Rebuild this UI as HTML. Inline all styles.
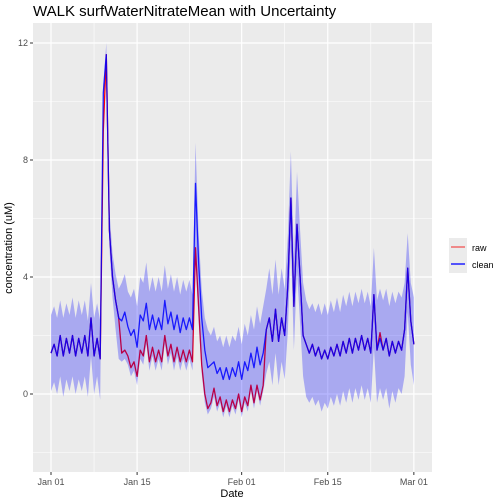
<!DOCTYPE html>
<html><head><meta charset="utf-8"><style>
body{margin:0;background:#fff}
svg{display:block;font-family:"Liberation Sans",sans-serif}
</style></head><body>
<svg id="chart" width="504" height="504" viewBox="0 0 504 504">
<text x="33" y="16" font-size="15" fill="#000">WALK surfWaterNitrateMean with Uncertainty</text>
<rect x="33" y="23" width="399" height="449" fill="#EBEBEB"/>
<g id="grid"></g>
<g id="series"></g>
<g id="axes"></g>
<text transform="translate(12,248) rotate(-90)" text-anchor="middle" font-size="11" fill="#000">concentration (uM)</text>
<text x="232" y="497" text-anchor="middle" font-size="11" fill="#000">Date</text>
<g>
<rect x="449" y="238" width="18" height="35" fill="#EBEBEB"/>
<line x1="451" x2="465" y1="247" y2="247" stroke="#F06868" stroke-width="1.5"/>
<line x1="451" x2="465" y1="264" y2="264" stroke="#2020FF" stroke-width="1.5"/>
<text x="472" y="251" font-size="9" fill="#000">raw</text>
<text x="472" y="268" font-size="9" fill="#000">clean</text>
</g>
</svg>
<script>
const yTicks = [0, 4, 8, 12];
const yMinor = [-2, 2, 6, 10];
const xTickLabels = ["Jan 01", "Jan 15", "Feb 01", "Feb 15", "Mar 01"];
const xTickDays = [0, 14, 31, 45, 59];
const xMinorDays = [7, 22.5, 38, 52];
const clean = [1.4,1.7,1.3,2.0,1.3,1.9,1.4,2.0,1.3,1.9,1.4,2.0,1.3,2.6,1.3,1.9,1.2,10.3,11.6,5.6,4.0,3.2,2.6,2.5,2.8,2.3,2.0,2.2,1.6,2.7,2.5,3.1,2.2,2.7,2.2,2.6,2.2,3.2,2.4,2.8,2.2,2.7,2.1,2.6,2.2,2.6,2.2,7.2,4.5,2.6,1.5,0.9,1.0,1.1,0.7,0.9,0.5,0.9,0.5,0.9,0.6,1.1,0.5,1.1,0.8,1.4,0.9,1.6,1.0,1.4,2.2,2.6,1.8,2.9,1.8,2.6,2.0,3.7,6.7,3.0,5.8,4.0,2.0,1.7,1.4,1.7,1.3,1.6,1.2,1.5,1.2,1.6,1.3,1.7,1.3,1.8,1.4,1.9,1.4,1.9,1.5,2.0,1.5,1.9,1.4,3.4,1.5,1.9,1.5,1.9,1.3,1.8,1.4,1.8,1.5,2.2,4.3,2.5,1.7];
const raw = [1.4,1.7,1.3,2.0,1.3,1.9,1.4,2.0,1.3,1.9,1.4,2.0,1.3,2.6,1.3,1.9,1.2,9.0,11.6,5.6,4.0,3.2,2.6,1.4,1.5,1.3,0.9,1.1,0.6,1.5,1.3,2.0,1.1,1.6,1.1,1.5,1.1,2.0,1.3,1.7,1.1,1.6,1.1,1.5,1.1,1.5,1.1,5.0,3.0,1.0,0.0,-0.5,-0.3,0.2,-0.4,-0.1,-0.6,-0.2,-0.6,-0.2,-0.5,0.0,-0.6,-0.1,-0.4,0.3,-0.3,0.3,-0.2,0.3,2.2,2.6,1.8,2.9,1.8,2.6,2.0,3.7,6.7,3.0,5.8,4.0,2.0,1.7,1.4,1.7,1.3,1.6,1.2,1.5,1.2,1.6,1.3,1.7,1.3,1.8,1.4,1.9,1.4,1.9,1.5,2.0,1.5,1.9,1.4,3.4,1.5,2.1,1.5,1.9,1.3,1.8,1.4,1.8,1.5,2.2,4.3,2.5,1.7];
const hi = [2.7,3.0,2.6,3.2,2.6,3.1,2.7,3.3,2.6,3.2,2.7,3.2,2.5,3.8,2.6,3.1,2.5,10.6,12.0,6.3,4.8,4.1,3.6,3.8,4.1,3.5,3.3,3.6,3.0,4.0,3.8,4.5,3.5,4.0,3.5,4.0,3.5,4.4,3.6,4.1,3.5,4.0,3.4,3.9,3.5,3.9,3.4,8.6,5.5,3.6,2.6,2.2,2.0,2.3,1.8,2.0,1.6,2.0,1.6,2.0,1.8,2.3,1.7,2.4,2.0,2.7,2.2,3.0,2.4,3.0,3.6,4.3,3.4,4.6,3.4,4.3,3.6,5.4,8.3,4.6,7.6,5.6,3.8,3.2,2.9,3.1,2.8,3.1,2.7,3.1,2.7,3.2,2.8,3.3,2.8,3.4,3.0,3.5,3.0,3.5,3.1,3.6,3.1,3.5,3.0,5.0,3.2,3.6,3.2,3.6,3.0,3.5,3.1,3.5,3.3,3.8,5.5,3.8,3.3];
const lo = [0.1,0.4,0.0,0.6,-0.1,0.5,0.1,0.6,0.0,0.5,0.1,0.6,-0.1,1.3,0.0,0.6,-0.2,9.9,11.2,5.0,3.3,2.2,1.2,1.1,1.2,1.0,0.6,0.8,0.3,1.2,1.0,1.7,0.8,1.3,0.8,1.2,0.8,1.7,1.0,1.4,0.8,1.3,0.8,1.2,0.8,1.2,0.8,4.5,2.5,0.7,-0.3,-0.7,-0.5,-0.1,-0.6,-0.3,-0.8,-0.4,-0.8,-0.4,-0.7,-0.2,-0.8,-0.3,-0.6,0.1,-0.5,0.1,-0.4,0.1,0.7,1.1,0.3,1.4,0.3,1.1,0.5,2.1,5.1,1.5,4.2,2.4,0.6,-0.1,-0.3,-0.1,-0.4,-0.2,-0.6,-0.3,-0.5,-0.1,-0.4,0.0,-0.4,0.1,-0.3,0.2,-0.3,0.2,-0.2,0.3,-0.2,0.2,-0.3,1.6,-0.3,0.2,-0.2,0.2,-0.5,0.1,-0.3,0.2,0.0,0.6,2.8,1.0,0.3];
const dayStep = 0.5;

const NS = "http://www.w3.org/2000/svg";
const X0 = 51, XPD = 6.15, PL = 33, PR = 432, PT = 23, PB = 472;
function xs(d){ return X0 + d * XPD; }
function ys(v){ return 394 - v * 29.25; }
function mk(tag, attrs, parent){
  const e = document.createElementNS(NS, tag);
  for (const k in attrs) e.setAttribute(k, attrs[k]);
  parent.appendChild(e);
  return e;
}
const grid = document.getElementById("grid");
const axes = document.getElementById("axes");
const series = document.getElementById("series");

yMinor.forEach(v => {
  const l = mk("line", {x1: PL, x2: PR, y1: ys(v), y2: ys(v), stroke: "#fff", "stroke-width": 0.6}, grid);
  
  
});
xMinorDays.forEach(d => {
  const l = mk("line", {x1: xs(d), x2: xs(d), y1: PT, y2: PB, stroke: "#fff", "stroke-width": 0.6}, grid);
  
  
});
yTicks.forEach(v => {
  const l = mk("line", {x1: PL, x2: PR, y1: ys(v), y2: ys(v), stroke: "#fff", "stroke-width": 1.2}, grid);
  
  
  const t = mk("line", {x1: PL - 3, x2: PL, y1: ys(v), y2: ys(v), stroke: "#333", "stroke-width": 1}, axes);
  
  
  const tx = mk("text", {x: PL - 5, y: ys(v) + 3, "text-anchor": "end", "font-size": 9, fill: "#4D4D4D"}, axes);
  tx.textContent = v;
  
  
});
xTickDays.forEach((d, i) => {
  const l = mk("line", {x1: xs(d), x2: xs(d), y1: PT, y2: PB, stroke: "#fff", "stroke-width": 1.2}, grid);
  
  
  const t = mk("line", {x1: xs(d), x2: xs(d), y1: PB, y2: PB + 3, stroke: "#333", "stroke-width": 1}, axes);
  
  
  const tx = mk("text", {x: xs(d), y: PB + 13, "text-anchor": "middle", "font-size": 9, fill: "#4D4D4D"}, axes);
  tx.textContent = xTickLabels[i];
  
  
});

function linePath(arr){
  return arr.map((v, i) => (i ? "L" : "M") + xs(i * dayStep).toFixed(1) + "," + ys(v).toFixed(1)).join("");
}
const rawPath = mk("path", {d: linePath(raw), fill: "none", stroke: "#FF0000", "stroke-width": 1.3, "stroke-linejoin": "round"}, series);


const cleanPath = mk("path", {d: linePath(clean), fill: "none", stroke: "#0000FF", "stroke-width": 1.3, "stroke-opacity": 0.85, "stroke-linejoin": "round"}, series);


let bd = hi.map((v, i) => (i ? "L" : "M") + xs(i * dayStep).toFixed(1) + "," + ys(v).toFixed(1)).join("");
for (let i = lo.length - 1; i >= 0; i--) bd += "L" + xs(i * dayStep).toFixed(1) + "," + ys(lo[i]).toFixed(1);
const band = mk("path", {d: bd + "Z", fill: "#0000FF", "fill-opacity": 0.28}, series);


</script>
</body></html>
